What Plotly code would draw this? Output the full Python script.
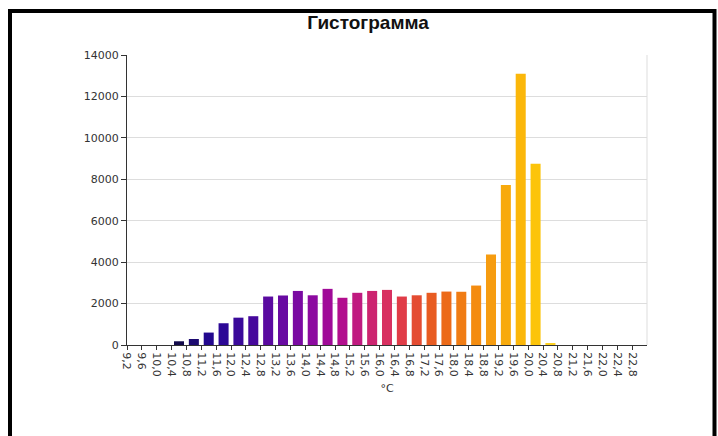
import plotly.graph_objects as go

# Bin left edges (°C) and counts
bin_edges = [9.2, 9.6, 10.0, 10.4, 10.8, 11.2, 11.6, 12.0, 12.4, 12.8, 13.2, 13.6,
             14.0, 14.4, 14.8, 15.2, 15.6, 16.0, 16.4, 16.8, 17.2, 17.6, 18.0, 18.4,
             18.8, 19.2, 19.6, 20.0, 20.4, 20.8, 21.2, 21.6, 22.0, 22.4]
counts = [0, 0, 0, 180, 290, 600, 1050, 1320, 1390, 2340, 2390, 2610,
          2400, 2710, 2280, 2520, 2610, 2660, 2340, 2400, 2520, 2580, 2570, 2870,
          4370, 7730, 13100, 8750, 80, 0, 0, 0, 0, 0]
tick_values = [9.2 + 0.4 * i for i in range(35)]
tick_labels = [f"{v:.1f}".replace(".", ",") for v in tick_values]
y_ticks = [0, 2000, 4000, 6000, 8000, 10000, 12000, 14000]
y_tick_labels = [str(v) for v in y_ticks]

bar_colors = ["#0d0887", "#0d0887", "#0d0887", "#120a4a", "#1c0a70", "#22088e", "#2c0896",
              "#3a0a9a", "#46089c", "#5a0aa0", "#680aa2", "#7a0aa2", "#8c0aa0", "#a00a98",
              "#b20e8e", "#c01a80", "#cc2470", "#d83060", "#e03c48", "#e44c32", "#e85c22",
              "#ec6a18", "#f07c14", "#f48c10", "#f69c10", "#f8aa0c", "#fbb70a", "#fcc40a",
              "#fdd020", "#fdd020", "#fdd020", "#fdd020", "#fdd020", "#fdd020"]

centers = [e + 0.2 for e in bin_edges]

fig = go.Figure(go.Bar(
    x=centers, y=counts, width=0.27,
    marker=dict(color=bar_colors, line=dict(width=0)),
    hoverinfo="x+y",
))

W, H = 718, 436
L, R, T, B = 127, 71, 55, 91
pw, ph = W - L - R, H - T - B

def px(x):
    return (x - L) / pw

def py(y):
    return (H - B - y) / ph

fig.update_layout(
    width=W, height=H,
    margin=dict(l=L, r=R, t=T, b=B),
    paper_bgcolor="white", plot_bgcolor="white",
    showlegend=False,
    title=dict(text="<b>Гистограмма</b>", x=368 / W, xref="container", xanchor="center",
               y=1 - 22 / H, yanchor="middle",
               font=dict(family="Liberation Sans, Arial, sans-serif", size=19, color="#111")),
    font=dict(family="DejaVu Sans, Verdana, sans-serif", size=11, color="#333"),
    xaxis=dict(
        range=[9.2, 23.2], tickmode="array", tickvals=tick_values, ticktext=tick_labels,
        tickangle=90, ticks="outside", ticklen=4, tickcolor="#333",
        showline=True, linecolor="#333", linewidth=1, showgrid=False, zeroline=False,
        title=dict(text="°C", standoff=8, font=dict(size=11, color="#333")),
        tickfont=dict(size=11, color="#333"),
    ),
    yaxis=dict(
        range=[0, 14000], tickmode="array", tickvals=y_ticks, ticktext=y_tick_labels,
        ticks="outside", ticklen=5, tickcolor="#333",
        showline=True, linecolor="#333", linewidth=1,
        showgrid=True, gridcolor="#dddddd", gridwidth=1, zeroline=False,
        tickfont=dict(size=11, color="#333"),
    ),
    shapes=[
        dict(type="line", xref="paper", yref="paper", x0=1, x1=1, y0=0, y1=1,
             line=dict(color="#dddddd", width=1)),
        dict(type="rect", xref="paper", yref="paper",
             x0=px(10), x1=px(714.5), y0=py(11), y1=py(445),
             line=dict(color="black", width=4), fillcolor="rgba(0,0,0,0)", layer="above"),
    ],
)

fig.write_html("out.html", config={"displayModeBar": False},
               post_script="document.body.style.margin='0';document.body.style.overflow='hidden';")
